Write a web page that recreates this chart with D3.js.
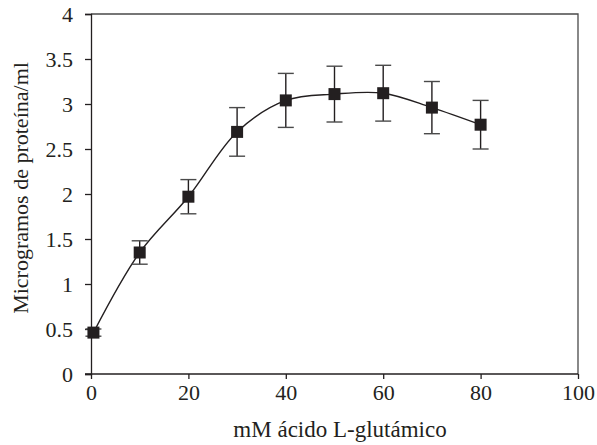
<!DOCTYPE html>
<html>
<head>
<meta charset="utf-8">
<script src="https://cdn.jsdelivr.net/npm/d3@7"></script>
<style>
  body { margin: 0; background: #fff; }
  text { font-family: "Liberation Serif", "DejaVu Serif", serif; fill: #231f20; }
</style>
</head>
<body>
<div id="chart"></div>
<script>
// data
var acido = [0.5, 10, 20, 30, 40, 50, 60, 70, 80];
var proteina = [0.46, 1.35, 1.97, 2.69, 3.04, 3.11, 3.12, 2.96, 2.77];
var error = [0.04, 0.13, 0.19, 0.27, 0.30, 0.31, 0.31, 0.29, 0.27];
var xTicks = [0, 20, 40, 60, 80, 100];
var yTicks = [0, 0.5, 1, 1.5, 2, 2.5, 3, 3.5, 4];

var svgWidth = 597;
var svgHeight = 445;
var margins = { top: 14, right: 19, bottom: 71, left: 91 };
var chartWidth = svgWidth - margins.left - margins.right;
var chartHeight = svgHeight - margins.top - margins.bottom;

var svg = d3.select("#chart").append("svg")
    .attr("width", svgWidth)
    .attr("height", svgHeight);

var chartGroup = svg.append("g")
    .attr("transform", `translate(${margins.left}, ${margins.top})`);

var xscale = d3.scaleLinear().domain([0, 100]).range([0, chartWidth]);
var yscale = d3.scaleLinear().domain([0, 4]).range([chartHeight, 0]);

// box (top + right)
chartGroup.append("path")
    .attr("d", `M0,0H${chartWidth}V${chartHeight}`)
    .attr("fill", "none")
    .attr("stroke", "#4a4a4a")
    .attr("stroke-width", 1.3);

// axes
var xAxis = d3.axisBottom(xscale).tickValues(xTicks).tickSize(5).tickPadding(5)
    .tickFormat(d3.format("d"));
var yAxis = d3.axisLeft(yscale).tickValues(yTicks).tickSize(6).tickPadding(12)
    .tickFormat(d => String(d));

var gx = chartGroup.append("g")
    .attr("transform", `translate(0, ${chartHeight})`)
    .call(xAxis);
var gy = chartGroup.append("g").call(yAxis);

[gx, gy].forEach(function(g) {
  g.select(".domain").attr("stroke", "#231f20").attr("stroke-width", 1.3);
  g.selectAll(".tick line").attr("stroke", "#231f20").attr("stroke-width", 1.3);
  g.selectAll(".tick text")
    .style("font-family", "Liberation Serif")
    .style("font-size", "22px")
    .attr("fill", "#231f20");
});
// x axis line runs out to the y tick length
gx.select(".domain").attr("d", `M-6,0H${chartWidth}`);

// smoothed line
var line = d3.line()
    .x((d, i) => xscale(acido[i]))
    .y(d => yscale(d))
    .curve(d3.curveCatmullRom.alpha(0.5));

chartGroup.append("path")
    .datum(proteina)
    .attr("d", line)
    .attr("fill", "none")
    .attr("stroke", "#231f20")
    .attr("stroke-width", 1.4);

// error bars
var bars = chartGroup.append("g").selectAll("g")
    .data(proteina)
    .enter()
    .append("g");

bars.append("line")
    .attr("x1", (d, i) => xscale(acido[i]))
    .attr("x2", (d, i) => xscale(acido[i]))
    .attr("y1", (d, i) => yscale(d + error[i]))
    .attr("y2", (d, i) => yscale(d - error[i]))
    .attr("stroke", "#231f20")
    .attr("stroke-width", 1.4);

[1, -1].forEach(function(s) {
  bars.append("line")
    .attr("x1", (d, i) => xscale(acido[i]) - 8)
    .attr("x2", (d, i) => xscale(acido[i]) + 8)
    .attr("y1", (d, i) => yscale(d + s * error[i]))
    .attr("y2", (d, i) => yscale(d + s * error[i]))
    .attr("stroke", "#4a4a4a")
    .attr("stroke-width", 1.4);
});

// square markers
chartGroup.append("g").selectAll("rect")
    .data(proteina)
    .enter()
    .append("rect")
    .attr("x", (d, i) => xscale(acido[i]) - 6)
    .attr("y", d => yscale(d) - 6)
    .attr("width", 12)
    .attr("height", 12)
    .attr("fill", "#231f20");

// axis titles
svg.append("text")
    .attr("x", 340)
    .attr("y", 437)
    .attr("text-anchor", "middle")
    .style("font-size", "23px")
    .text("mM ácido L-glutámico");

svg.append("text")
    .attr("transform", "translate(28, 188) rotate(-90)")
    .attr("text-anchor", "middle")
    .style("font-size", "22px")
    .text("Microgramos de proteína/ml");
</script>
</body>
</html>
